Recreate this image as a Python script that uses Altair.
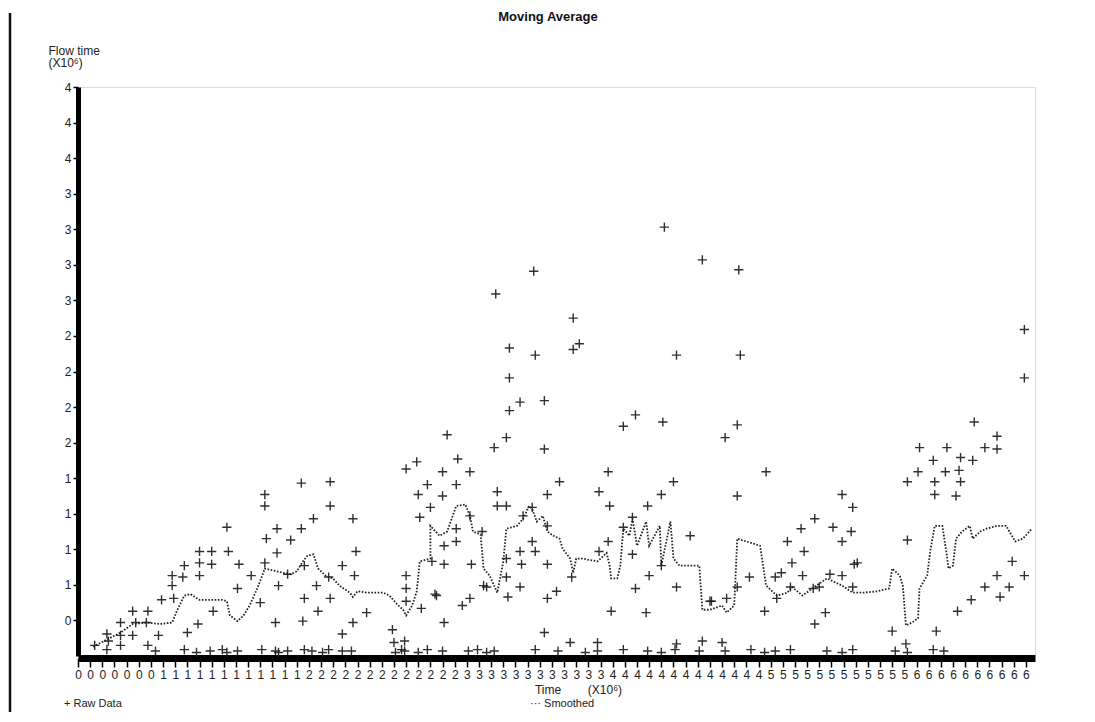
import altair as alt
import pandas as pd

# ---- data (units: x10^6) ----
raw_time = [
    0.11, 0.19, 0.20, 0.19, 0.28, 0.28, 0.28, 0.36, 0.38, 0.36, 0.46, 0.45, 0.46, 0.53, 0.55, 0.62, 0.62, 0.63,
    0.70, 0.69, 0.72, 0.80, 0.80, 0.80, 0.79, 0.88, 0.88, 0.89, 0.98, 0.99, 1.06, 1.05, 1.14, 1.20, 1.23, 1.23,
    1.24, 1.23, 1.31, 1.31, 1.32, 1.30, 1.40, 1.38, 1.47, 1.47, 1.49, 1.49, 1.48, 1.55, 1.57, 1.58, 1.66, 1.66,
    1.65, 1.66, 1.74, 1.74, 1.81, 1.83, 1.82, 1.81, 1.90, 2.07, 2.08, 2.09,
    2.16, 2.23, 2.30, 2.24, 2.32, 2.25, 2.40, 2.40, 2.43, 2.50, 2.49, 2.58, 2.16, 2.16, 2.16, 2.36, 2.33, 2.41,
    2.41, 2.49, 2.49, 2.58, 2.59, 2.66, 2.67, 2.74, 2.76, 2.76, 2.82, 2.82, 2.84, 2.91, 3.07, 3.07, 2.82, 2.82,
    2.83, 2.91, 2.92, 2.93, 2.99, 2.99, 3.01, 2.91, 3.09, 3.09, 3.09, 3.15, 3.09, 3.17, 3.25, 3.43, 3.49, 3.50,
    3.43, 3.49, 3.59, 3.67, 3.85, 3.59, 3.65, 3.65, 3.75, 3.76, 3.67, 3.84, 3.92, 3.94, 3.84, 2.26, 2.35, 2.41,
    2.15, 2.58, 2.53, 2.69, 3.07, 3.24, 3.42, 3.51, 3.74, 3.94, 4.11, 4.24, 4.16,
    2.75, 2.84, 2.84, 3.00, 3.01, 3.26, 3.26, 3.30, 3.86, 3.94, 4.11, 4.35, 4.36, 6.23, 6.23,
    4.34, 4.26, 4.53, 4.34, 4.03, 5.03, 5.10, 4.85, 4.76, 4.97, 5.09, 5.03, 4.67, 4.78, 4.70, 5.13, 4.42, 4.59,
    4.63, 4.77, 4.95, 5.03, 4.34, 4.17, 4.27, 4.60, 4.69, 4.84, 5.10, 5.90, 6.05, 5.97, 6.05, 5.54, 5.72, 5.63,
    5.81, 5.89, 5.53, 5.71, 5.80, 5.46, 5.64, 5.81, 5.64, 5.78, 5.46, 6.15, 6.05, 5.97, 5.88, 6.23, 6.13, 6.07,
    5.79, 5.36, 5.65, 5.45, 4.52, 4.85, 4.92, 4.88, 5.11,
    0.51, 0.70, 0.78, 0.87, 0.95, 0.98, 1.05, 1.21, 1.30, 1.32, 1.38, 1.49, 1.54, 1.61, 1.65, 1.74, 1.80, 2.13,
    2.15, 2.24, 2.30, 2.40, 2.57, 2.63, 2.69, 2.74, 3.01, 3.16, 3.34, 3.42, 3.59, 3.75, 3.84, 3.93, 4.09, 4.26,
    4.43, 4.52, 4.59, 4.69, 4.93, 5.03, 5.10, 5.38, 5.46, 5.63, 5.70,
]
raw_flow = [
    0.20, 0.28, 0.23, 0.17, 0.20, 0.27, 0.36, 0.44, 0.36, 0.27, 0.44, 0.36, 0.20, 0.27, 0.52, 0.69, 0.62, 0.53,
    0.76, 0.68, 0.29, 0.86, 0.78, 0.69, 0.35, 0.86, 0.77, 0.44, 1.03, 0.86, 0.77, 0.60, 0.69, 0.50, 1.26, 1.18,
    0.95, 0.78, 1.02, 0.85, 0.62, 0.36, 0.94, 0.70, 1.34, 1.02, 0.76, 0.53, 0.37, 1.09, 0.62, 0.44, 1.35, 1.18,
    0.68, 0.53, 0.76, 0.28, 1.09, 0.86, 0.69, 0.36, 0.43, 0.31, 0.22, 0.15,
    1.44, 1.49, 1.33, 1.26, 1.17, 1.10, 1.42, 1.25, 1.68, 1.51, 1.33, 1.42, 0.69, 0.60, 0.51, 0.55, 0.79, 0.90,
    0.77, 0.93, 1.02, 1.11, 0.77, 1.00, 0.62, 1.59, 1.28, 1.18, 1.18, 1.66, 1.85, 1.91, 1.92, 1.58, 0.81, 0.68,
    0.54, 0.86, 0.77, 1.11, 1.17, 0.93, 0.86, 0.61, 1.26, 1.04, 0.77, 0.58, 0.53, 1.35, 0.68, 1.28, 1.42, 1.18,
    0.86, 0.93, 1.74, 1.82, 1.77, 1.03, 1.10, 0.84, 1.18, 0.69, 0.60, 1.26, 1.35, 0.61, 0.76, 0.46, 0.56, 0.36,
    0.23, 0.53, 0.48, 0.61, 0.29, 0.22, 0.22, 0.44, 0.43, 0.21, 0.23, 0.22, 0.51,
    2.67, 2.29, 2.08, 2.83, 2.24, 2.50, 2.28, 2.32, 3.14, 2.24, 2.91, 2.84, 2.24, 2.42, 2.08,
    1.75, 1.66, 1.42, 1.25, 0.97, 1.26, 1.17, 1.09, 1.02, 1.03, 1.00, 0.93, 0.93, 0.86, 0.78, 0.78, 0.68, 0.68,
    0.71, 0.69, 0.70, 0.69, 0.61, 0.51, 0.53, 0.53, 0.61, 0.60, 0.61, 1.77, 1.67, 1.59, 1.58, 1.59, 1.59, 1.50,
    1.52, 1.50, 1.42, 1.42, 1.43, 1.35, 1.35, 1.35, 1.26, 1.25, 0.94, 0.79, 0.69, 0.61, 0.52, 0.69, 0.61, 0.54,
    0.44, 0.30, 0.30, 0.21, 0.44, 0.35, 0.43, 0.61, 0.77,
    0.16, 0.17, 0.15, 0.16, 0.17, 0.15, 0.16, 0.17, 0.16, 0.15, 0.16, 0.17, 0.16, 0.15, 0.17, 0.16, 0.16, 0.17,
    0.16, 0.15, 0.17, 0.16, 0.16, 0.17, 0.15, 0.16, 0.17, 0.16, 0.15, 0.16, 0.17, 0.16, 0.15, 0.17, 0.16, 0.16,
    0.17, 0.15, 0.16, 0.17, 0.16, 0.15, 0.17, 0.16, 0.15, 0.17, 0.16,
]

smooth_time = [
    0.10, 0.19, 0.28, 0.36, 0.45, 0.54, 0.62, 0.65, 0.70, 0.74, 0.80, 0.89, 0.95, 0.98, 1.00, 1.05, 1.09, 1.13,
    1.18, 1.22, 1.23, 1.31, 1.35, 1.40, 1.44, 1.48, 1.51, 1.55, 1.58, 1.63, 1.68, 1.72, 1.79, 1.81, 1.84, 1.90,
    2.01, 2.05, 2.10, 2.14, 2.16, 2.20, 2.23, 2.25, 2.32, 2.32, 2.38, 2.43, 2.49, 2.55, 2.58, 2.60, 2.65, 2.67,
    2.71, 2.76, 2.80, 2.82, 2.89, 2.93, 2.97, 2.99, 3.02, 3.06, 3.09, 3.13, 3.17, 3.19, 3.24, 3.26, 3.28, 3.32,
    3.42, 3.44, 3.48, 3.50, 3.51, 3.55, 3.57, 3.59, 3.63, 3.65, 3.68, 3.74, 3.76, 3.83, 3.84, 3.90, 3.92, 3.96,
    4.03, 4.09, 4.11, 4.16, 4.24, 4.27, 4.32, 4.34, 4.40, 4.49, 4.51, 4.53, 4.60, 4.67, 4.70, 4.77, 4.86, 4.93,
    4.99, 5.03, 5.10, 5.17, 5.26, 5.34, 5.36, 5.41, 5.43, 5.45, 5.49, 5.53, 5.54, 5.59, 5.61, 5.64, 5.69, 5.72,
    5.73, 5.76, 5.78, 5.82, 5.87, 5.89, 5.94, 5.98, 6.05, 6.11, 6.17, 6.22, 6.28,
]
smooth_flow = [
    0.19, 0.24, 0.29, 0.35, 0.36, 0.35, 0.36, 0.44, 0.55, 0.56, 0.52, 0.52, 0.52, 0.51, 0.41, 0.37, 0.41, 0.48,
    0.60, 0.71, 0.74, 0.72, 0.71, 0.70, 0.72, 0.79, 0.83, 0.84, 0.74, 0.69, 0.67, 0.62, 0.57, 0.54, 0.58, 0.57,
    0.57, 0.55, 0.49, 0.45, 0.41, 0.48, 0.58, 0.79, 0.81, 1.04, 0.97, 1.00, 1.18, 1.19, 1.11, 1.00, 0.98, 0.74,
    0.69, 0.57, 0.79, 1.02, 1.04, 1.09, 1.18, 1.16, 1.07, 1.11, 1.00, 0.97, 0.95, 0.88, 0.81, 0.71, 0.81, 0.81,
    0.79, 0.81, 0.85, 0.76, 0.67, 0.67, 0.76, 1.02, 0.97, 1.09, 0.90, 1.07, 0.90, 1.04, 0.76, 1.07, 0.81, 0.76,
    0.76, 0.76, 0.45, 0.45, 0.48, 0.43, 0.48, 0.95, 0.93, 0.90, 0.76, 0.62, 0.55, 0.57, 0.61, 0.55, 0.62, 0.67,
    0.64, 0.62, 0.57, 0.57, 0.58, 0.60, 0.74, 0.69, 0.62, 0.34, 0.36, 0.39, 0.60, 0.69, 0.86, 1.04, 1.04, 0.83,
    0.74, 0.76, 0.95, 1.00, 1.04, 0.95, 1.00, 1.02, 1.04, 1.04, 0.93, 0.95, 1.02,
]

x_ticks = [round(i * 0.08, 2) for i in range(79)]
y_ticks = [0.375, 0.625, 0.875, 1.125, 1.375, 1.625, 1.875, 2.125, 2.375, 2.625, 2.875, 3.125, 3.375,
           3.625, 3.875, 4.125]
legend_labels = ["+ Raw Data", "\u00b7\u00b7\u00b7 Smoothed"]
chart_title = "Moving Average"

raw_df = pd.DataFrame({"time": raw_time, "flow": raw_flow})
smooth_df = pd.DataFrame({"time": smooth_time, "flow": smooth_flow, "idx": list(range(len(smooth_time)))})

FONT = "Liberation Sans"

x_scale = alt.Scale(domain=[0, 6.3], nice=False, zero=False)
y_scale = alt.Scale(domain=[0.125, 4.125], nice=False, zero=False)

x_axis = alt.Axis(
    values=x_ticks, tickCount=len(x_ticks), labelExpr="format(datum.value, '.0f')", labelOverlap=False,
    labelFlush=False, grid=False, domainColor="#000", domainWidth=7, tickColor="#000", tickWidth=1.5,
    tickSize=9, labelFontSize=12, labelFont=FONT, labelColor="#222", labelPadding=2, offset=2,
    title="Time\u00a0\u00a0\u00a0\u00a0\u00a0\u00a0\u00a0\u00a0(X10\u2076)", titleFont=FONT, titleFontSize=12,
    titleFontWeight="normal", titleColor="#222", titleX=500, titleY=26, titleBaseline="top",
)
y_axis = alt.Axis(
    values=y_ticks, tickCount=len(y_ticks), labelExpr="format(datum.value, '.0f')", labelOverlap=False,
    labelFlush=False, grid=False, domainColor="#000", domainWidth=5, tickColor="#000", tickWidth=1.5,
    tickSize=5, labelFontSize=12, labelFont=FONT, labelColor="#222", labelPadding=2,
    title=["Flow time", "(X10\u2076)"], titleAngle=0, titleAlign="left", titleBaseline="top",
    titleX=-30, titleY=-42, titleFont=FONT, titleFontSize=12, titleFontWeight="normal",
    titleColor="#222", titleLineHeight=12,
)

line = alt.Chart(smooth_df).mark_line(
    strokeDash=[1.6, 1.6], strokeWidth=1.8, color="#222"
).encode(
    x=alt.X("time:Q", scale=x_scale, axis=x_axis),
    y=alt.Y("flow:Q", scale=y_scale, axis=y_axis),
    order="idx:Q",
)

points = alt.Chart(raw_df).mark_point(
    shape="M-1,0L1,0M0,-1L0,1", filled=False, stroke="#1a1a1a", strokeWidth=1.4, size=85, opacity=0.9
).encode(
    x=alt.X("time:Q", scale=x_scale, axis=x_axis),
    y=alt.Y("flow:Q", scale=y_scale, axis=y_axis),
)

leg_df = pd.DataFrame({"label": legend_labels, "px": [-14, 452]})
legend_text = alt.Chart(leg_df).mark_text(
    align="left", baseline="middle", fontSize=11, font=FONT, color="#222"
).encode(
    text="label:N",
    x=alt.X("px:Q", scale=None),
    y=alt.value(617),
)

title_text = alt.Chart(pd.DataFrame({"t": [chart_title]})).mark_text(
    align="center", baseline="middle", fontSize=13, fontWeight="bold", font=FONT, color="#111"
).encode(
    text="t:N",
    x=alt.value(470),
    y=alt.value(-70),
)

# scanned page frame on the left edge (decoration)
frame_left = alt.Chart(pd.DataFrame({"k": [0]})).mark_rule(color="#111", strokeWidth=2.5).encode(
    x=alt.value(-68), y=alt.value(-74), y2=alt.value(640)
)

chart = alt.layer(frame_left, line, points, legend_text, title_text).properties(
    width=957,
    height=569,
    padding={"left": 70, "top": 79, "right": 50, "bottom": 56},
    autosize=alt.AutoSizeParams(type="none"),
).configure_view(stroke="#444", strokeWidth=1.2).configure(background="white")

chart.save("out.html", embed_options={"renderer": "svg", "actions": False})
